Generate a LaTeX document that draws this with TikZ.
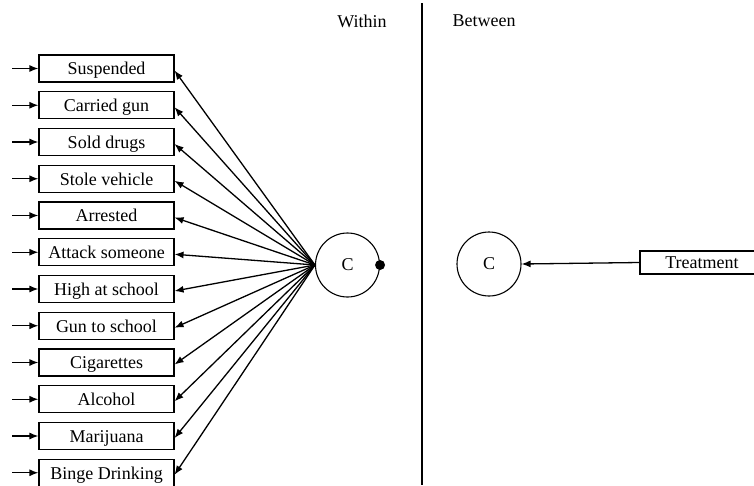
\documentclass[tikz,border=0pt]{standalone}
\usepackage{fontspec}
\setmainfont{Liberation Serif}
\usetikzlibrary{arrows.meta}
\begin{document}
\begin{tikzpicture}[x=1pt,y=-1pt,
  every node/.style={font=\fontsize{18}{20}\selectfont},
  ind/.style={draw,line width=1.1pt,minimum width=135pt,minimum height=27pt,inner sep=0pt,text height=13pt,text depth=0.5pt},
  lat/.style={draw,circle,line width=1.1pt,minimum size=64pt,inner sep=0pt},
  arr/.style={line width=1.3pt,-{Latex[length=9pt,width=7pt]}}]
\useasboundingbox (0,0) rectangle (754,485);
\node (within) at (362,21) {Within};
\node (between) at (484,21) {Between};
\coordinate (dtop) at (422,3);
\coordinate (dbot) at (422,485);
\draw[line width=1.1pt] (dtop) -- (dbot);
\node[lat] (cw) at (347.5,265) {C};
\fill (cw.east) circle (5pt);
\node[lat] (cb) at (489,264) {C};
\node[ind,minimum width=124pt,minimum height=23pt] (treat) at (702,262.5) {Treatment};
\draw[arr] (treat.west) -- (cb.east);
\foreach \i/\t in {0/Suspended,1/Carried gun,2/Sold drugs,3/Stole vehicle,4/Arrested,5/Attack someone,6/High at school,7/Gun to school,8/Cigarettes,9/Alcohol,10/Marijuana,11/Binge Drinking}{
  \node[ind] (b\i) at (106.5,68.5+36.75*\i) {\t};
  \coordinate (s\i) at (12,68.5+36.75*\i);
  \draw[arr] (s\i) -- (b\i.west);
  \draw[arr] (cw.west) -- ([yshift=-2pt]b\i.east);
}
\end{tikzpicture}
\end{document}
